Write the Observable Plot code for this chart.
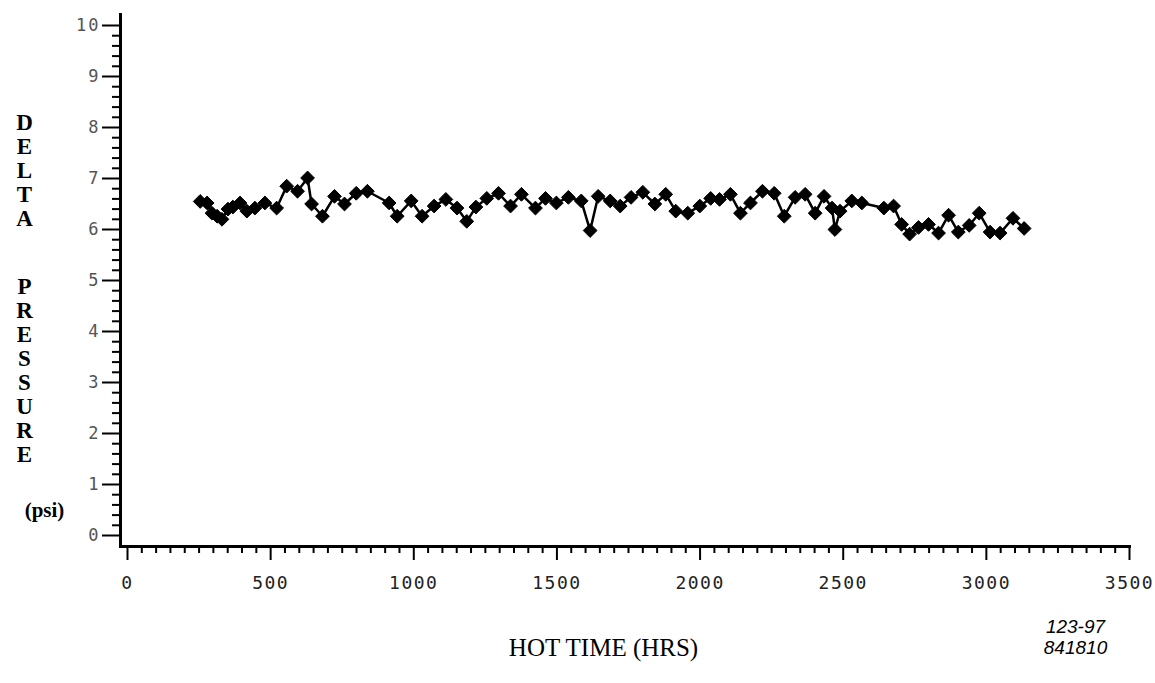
<!DOCTYPE html>
<html>
<head>
<meta charset="utf-8">
<script src="https://cdn.jsdelivr.net/npm/d3@7"></script>
<script src="https://cdn.jsdelivr.net/npm/@observablehq/plot@0.6"></script>
<style>
  body { margin: 0; background: #fff; }
  svg { display: block; }
  g[aria-label="y-axis tick label"] text { letter-spacing: 2px; font-variant-numeric: slashed-zero; }
  g[aria-label="x-axis tick label"] text { letter-spacing: 1.5px; font-variant-numeric: slashed-zero; }
</style>
</head>
<body>
<div id="chart"></div>
<script>
// Hot time (hrs) and delta pressure (psi)
const hours = [254, 278, 295, 313, 330, 351, 368, 393, 417, 445, 480, 521, 556, 594, 629, 643, 681, 723, 758, 799,
  838, 914, 942, 991, 1029, 1071, 1112, 1151, 1185, 1217, 1255, 1296, 1338, 1376, 1425, 1460, 1498, 1540, 1585, 1616,
  1644, 1686, 1721, 1759, 1800, 1842, 1880, 1915, 1957, 1999, 2037, 2068, 2106, 2141, 2176, 2218, 2259, 2294, 2332, 2367,
  2402, 2433, 2461, 2471, 2489, 2530, 2565, 2642, 2676, 2704, 2732, 2763, 2798, 2833, 2868, 2902, 2940, 2975, 3013, 3048,
  3093, 3132];
const deltaP = [6.55, 6.52, 6.32, 6.26, 6.20, 6.40, 6.44, 6.52, 6.36, 6.42, 6.52, 6.42, 6.85, 6.75, 7.01, 6.50, 6.26, 6.65, 6.50, 6.71,
  6.75, 6.52, 6.26, 6.56, 6.26, 6.46, 6.59, 6.42, 6.16, 6.44, 6.61, 6.71, 6.46, 6.69, 6.42, 6.61, 6.52, 6.63, 6.56, 5.98,
  6.65, 6.56, 6.46, 6.63, 6.73, 6.50, 6.69, 6.36, 6.32, 6.46, 6.61, 6.59, 6.69, 6.32, 6.52, 6.75, 6.71, 6.26, 6.63, 6.69,
  6.32, 6.65, 6.42, 6.00, 6.36, 6.56, 6.52, 6.42, 6.46, 6.10, 5.91, 6.04, 6.10, 5.93, 6.28, 5.95, 6.08, 6.32, 5.95, 5.93,
  6.22, 6.02];

const xMajor = [0, 500, 1000, 1500, 2000, 2500, 3000, 3500];
const xMinor = d3.range(0, 3501, 50).filter(v => v % 500 !== 0);
const yMajor = [0, 1, 2, 3, 4, 5, 6, 7, 8, 9, 10];
const yMinor = d3.range(0, 50).map(i => i / 5).filter((v, i) => i % 5 !== 0);

const yTitleTop = "D\nE\nL\nT\nA";
const yTitleBottom = "P\nR\nE\nS\nS\nU\nR\nE";
const yUnit = "(psi)";
const xTitle = "HOT TIME (HRS)";
const stamp = "123-97\n841810";

const data = hours.map((h, i) => ({h, p: deltaP[i]}));

const chart = Plot.plot({
  width: 1155,
  height: 683,
  marginLeft: 127,
  marginRight: 26,
  marginTop: 25,
  marginBottom: 148,
  x: {domain: [0, 3500], label: null},
  y: {domain: [0, 10], label: null},
  style: {background: "#fff", color: "#000"},
  marks: [
    // axis lines (offset from the data origin, as in the plotter output)
    Plot.ruleX([0], {dx: -7, insetTop: -12, insetBottom: -11, stroke: "#000", strokeWidth: 3}),
    Plot.ruleY([0], {dy: 11, insetLeft: -8, insetRight: -2, stroke: "#000", strokeWidth: 3}),
    // y ticks
    Plot.axisY(yMinor, {tickSize: 8, dx: -7, text: null, label: null, strokeWidth: 2}),
    Plot.axisY(yMajor, {tickSize: 18, tickPadding: 2, dx: -7, label: null, strokeWidth: 2, tickFormat: d3.format("d"),
      fontSize: 17, fontFamily: "DejaVu Sans Mono", fill: "#555"}),
    // x ticks
    Plot.axisX(xMinor, {tickSize: 7, dy: 11, text: null, label: null, strokeWidth: 2}),
    Plot.axisX(xMajor, {tickSize: 14, tickPadding: 16, dy: 11, label: null, strokeWidth: 2, tickFormat: d3.format("d"),
      fontSize: 18, fontFamily: "DejaVu Sans Mono", fill: "#222"}),
    // data
    Plot.line(data, {x: "h", y: "p", stroke: "#000", strokeWidth: 2.5}),
    Plot.dot(data, {x: "h", y: "p", symbol: "diamond2", r: 6.2, fill: "#000", stroke: "#000", strokeWidth: 1}),
    // titles
    Plot.text([yTitleTop], {text: d => d, frameAnchor: "top-left", dx: -103, dy: 88, lineAnchor: "top",
      textAnchor: "middle", fontSize: 23, fontWeight: "bold", fontFamily: "Liberation Serif", lineHeight: 1.04, fill: "#000"}),
    Plot.text([yTitleBottom], {text: d => d, frameAnchor: "top-left", dx: -103, dy: 252, lineAnchor: "top",
      textAnchor: "middle", fontSize: 23, fontWeight: "bold", fontFamily: "Liberation Serif", lineHeight: 1.04, fill: "#000"}),
    Plot.text([yUnit], {text: d => d, frameAnchor: "top-left", dx: -83, dy: 485, lineAnchor: "middle",
      textAnchor: "middle", fontSize: 21, fontWeight: "bold", fontFamily: "Liberation Serif", fill: "#000"}),
    Plot.text([xTitle], {text: d => d, frameAnchor: "bottom", dx: -25, dy: 112, lineAnchor: "middle",
      textAnchor: "middle", fontSize: 25, fontFamily: "Liberation Serif", fill: "#000"}),
    Plot.text([stamp], {text: d => d, frameAnchor: "bottom-right", dx: -54, dy: 101, lineAnchor: "middle",
      textAnchor: "middle", fontSize: 19, fontStyle: "italic", fontFamily: "Liberation Sans", lineHeight: 1.15, fill: "#000"})
  ]
});

document.getElementById("chart").appendChild(chart);
</script>
</body>
</html>
